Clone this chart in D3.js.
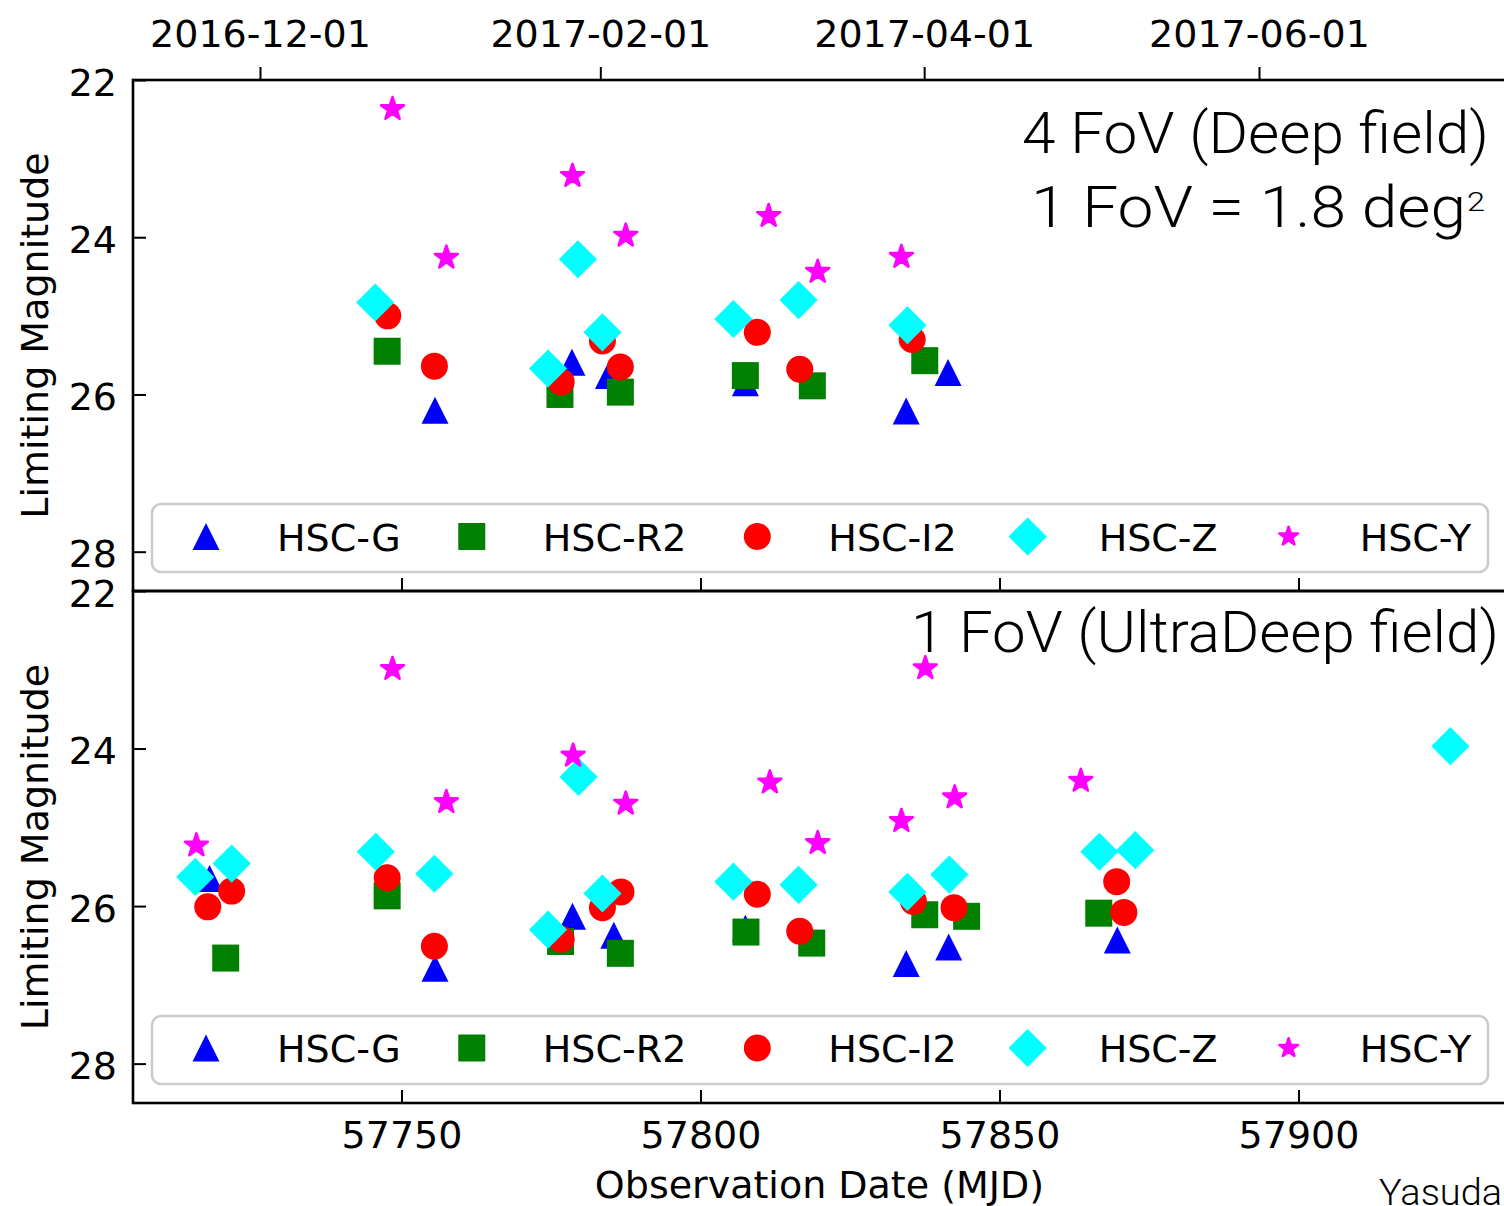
<!DOCTYPE html>
<html>
<head>
<meta charset="utf-8">
<script src="https://cdn.jsdelivr.net/npm/d3@7"></script>
<style>
  html, body { margin: 0; padding: 0; background: #fff; overflow: hidden; }
  svg { display: block; }
  .tick text { font-family: "DejaVu Sans", sans-serif; font-size: 38px; fill: #000; }
  .tick line { stroke: #000; stroke-width: 2; }
</style>
</head>
<body>
<svg id="chart" width="1504" height="1206"></svg>
<script>
// ---- axis values ----
const bands = ["HSC-G", "HSC-R2", "HSC-I2", "HSC-Z", "HSC-Y"];
const mjdTicks = [57750, 57800, 57850, 57900];
const magTicks = [22, 24, 26, 28];
const dateTicks = ["2016-12-01", "2017-02-01", "2017-04-01", "2017-06-01"];
const mjdDomain = [57705.1, 57934.7];
const magDomain = [22, 28.5];
const dateDomain = ["2016-11-07T20:43:00Z", "2017-07-16T00:00:00Z"];

// ---- Deep field (4 FoV): [MJD, limiting magnitude] ----
const deepG  = [[57755.6, 26.20], [57778.5, 25.59], [57784.6, 25.76], [57807.5, 25.85], [57834.4, 26.21], [57841.4, 25.72]];
const deepR2 = [[57747.6, 25.45], [57776.5, 26.00], [57786.6, 25.97], [57807.5, 25.76], [57818.7, 25.89], [57837.5, 25.57]];
const deepI2 = [[57747.7, 25.00], [57755.5, 25.64], [57776.7, 25.84], [57783.6, 25.32], [57786.6, 25.65], [57809.5, 25.21], [57816.6, 25.68], [57835.4, 25.30]];
const deepZ  = [[57745.6, 24.83], [57774.5, 25.67], [57779.5, 24.28], [57783.6, 25.21], [57805.5, 25.04], [57816.4, 24.80], [57834.6, 25.12]];
const deepY  = [[57748.5, 22.37], [57757.5, 24.26], [57778.6, 23.22], [57787.5, 23.98], [57811.4, 23.73], [57819.6, 24.44], [57833.6, 24.25]];

// ---- UltraDeep field (1 FoV): [MJD, limiting magnitude] ----
const udeepG  = [[57717.9, 25.65], [57755.6, 26.79], [57778.6, 26.13], [57785.5, 26.37], [57807.5, 26.28], [57834.4, 26.73], [57841.5, 26.52], [57869.7, 26.43]];
const udeepR2 = [[57720.6, 26.66], [57747.6, 25.87], [57776.6, 26.45], [57786.6, 26.60], [57807.6, 26.33], [57818.6, 26.47], [57837.5, 26.11], [57844.5, 26.13], [57866.6, 26.09]];
const udeepI2 = [[57717.6, 26.01], [57721.6, 25.81], [57747.6, 25.64], [57755.5, 26.51], [57776.7, 26.42], [57783.6, 26.02], [57786.7, 25.82], [57809.5, 25.85], [57816.6, 26.32], [57835.6, 25.94], [57842.4, 26.02], [57869.6, 25.69], [57870.8, 26.08]];
const udeepZ  = [[57715.5, 25.63], [57721.6, 25.46], [57745.7, 25.31], [57755.5, 25.59], [57774.5, 26.30], [57779.6, 24.36], [57783.6, 25.84], [57805.5, 25.69], [57816.4, 25.73], [57834.6, 25.82], [57841.6, 25.60], [57866.7, 25.31], [57872.7, 25.29], [57925.4, 23.97]];
const udeepY  = [[57715.7, 25.23], [57748.5, 22.99], [57757.5, 24.68], [57778.7, 24.09], [57787.5, 24.70], [57811.6, 24.43], [57819.6, 25.20], [57833.6, 24.92], [57837.6, 22.98], [57842.5, 24.62], [57863.6, 24.41]];

// ---- marker style per band ----
const bandColor = { "HSC-G": "#0000ff", "HSC-R2": "#008000", "HSC-I2": "#ff0000", "HSC-Z": "#00ffff", "HSC-Y": "#ff00ff" };
const bandShape = { "HSC-G": "triangle", "HSC-R2": "square", "HSC-I2": "circle", "HSC-Z": "diamond", "HSC-Y": "star" };

const svg = d3.select("#chart");
svg.append("rect").attr("width", 1504).attr("height", 1206).attr("fill", "#fff");

const left = 133, right = 1506;
const x = d3.scaleLinear().domain(mjdDomain).range([left, right]);
const xDate = d3.scaleUtc().domain(dateDomain.map(d => new Date(d))).range([left, right]);

function markerPath(shape, m) {
  const h = m / 2;
  if (shape === "triangle") return `M0,${-h}L${h},${h}L${-h},${h}Z`;
  if (shape === "square") return `M${-h},${-h}H${h}V${h}H${-h}Z`;
  if (shape === "circle") return `M${h},0A${h},${h},0,1,1,${-h},0A${h},${h},0,1,1,${h},0Z`;
  if (shape === "diamond") { const d = h * Math.SQRT2; return `M0,${-d}L${d},0L0,${d}L${-d},0Z`; }
  // five-pointed star
  const rIn = h * 0.381966;
  let p = "";
  for (let i = 0; i < 10; i++) {
    const r = i % 2 === 0 ? h : rIn;
    const a = -Math.PI / 2 + i * Math.PI / 5;
    p += (i === 0 ? "M" : "L") + (r * Math.cos(a)).toFixed(2) + "," + (r * Math.sin(a)).toFixed(2);
  }
  return p + "Z";
}

// stars carry a rounded edge in their own colour, like the other markers' outline
function styleMarker(sel, b) {
  sel.attr("fill", bandColor[b]);
  if (bandShape[b] === "star") {
    sel.attr("stroke", bandColor[b]).attr("stroke-width", 2.6).attr("stroke-linejoin", "round");
  }
  return sel;
}

const panels = [
  { id: "deep",  y0: 80,  y1: 591,  series: [deepG, deepR2, deepI2, deepZ, deepY],      boxY: 504,  itemY: 536.5 },
  { id: "udeep", y0: 591, y1: 1103, series: [udeepG, udeepR2, udeepI2, udeepZ, udeepY], boxY: 1016, itemY: 1048 }
];

const M = 27;

panels.forEach((p, pi) => {
  const y = d3.scaleLinear().domain(magDomain).range([p.y0, p.y1]);
  const g = svg.append("g").attr("class", "panel-" + p.id);

  g.append("clipPath").attr("id", "clip-" + p.id)
    .append("rect").attr("x", left).attr("y", p.y0).attr("width", right - left).attr("height", p.y1 - p.y0);

  // observations, later bands drawn on top
  const marks = g.append("g").attr("clip-path", `url(#clip-${p.id})`);
  bands.forEach((b, bi) => {
    const ms = bandShape[b] === "star" ? M - 3 : M;
    marks.append("g").selectAll("path").data(p.series[bi]).join("path")
      .attr("d", markerPath(bandShape[b], ms))
      .attr("transform", d => `translate(${x(d[0])},${y(d[1])})`)
      .call(styleMarker, b);
  });

  // left axis
  const ya = g.append("g").attr("transform", `translate(${left},0)`)
    .call(d3.axisLeft(y).tickValues(magTicks).tickFormat(d3.format("d")).tickSize(-13).tickPadding(16));
  ya.select(".domain").remove();
  ya.selectAll(".tick text").attr("dy", "0.40em");

  // bottom axis
  const xa = g.append("g").attr("transform", `translate(0,${p.y1})`)
    .call(d3.axisBottom(x).tickValues(mjdTicks).tickSize(-13).tickPadding(18)
      .tickFormat(pi === panels.length - 1 ? d3.format("d") : () => ""));
  xa.select(".domain").remove();

  // frame
  g.append("rect").attr("x", left).attr("y", p.y0).attr("width", right - left).attr("height", p.y1 - p.y0)
    .attr("fill", "none").attr("stroke", "#000").attr("stroke-width", 2.6);

  // y label
  g.append("text")
    .attr("transform", `translate(48,${(p.y0 + p.y1) / 2}) rotate(-90)`)
    .attr("text-anchor", "middle")
    .attr("font-family", "DejaVu Sans").attr("font-size", 38)
    .text("Limiting Magnitude");

  // legend
  const lg = g.append("g");
  lg.append("rect").attr("x", 152).attr("y", p.boxY).attr("width", 1336).attr("height", 68)
    .attr("rx", 9).attr("fill", "#fff").attr("fill-opacity", 0.8)
    .attr("stroke", "#cccccc").attr("stroke-width", 2.6);
  let cx = 206;
  bands.forEach(b => {
    const ms = bandShape[b] === "star" ? M * 0.72 : M;
    lg.append("path").attr("d", markerPath(bandShape[b], ms))
      .attr("transform", `translate(${cx},${p.itemY})`).call(styleMarker, b);
    const t = lg.append("text").attr("x", cx + 71).attr("y", p.itemY + 14)
      .attr("font-family", "DejaVu Sans").attr("font-size", 38).text(b);
    cx = cx + 71 + t.node().getComputedTextLength() + 71;
  });
});

// date axis along the top
const ta = svg.append("g").attr("transform", "translate(0,80)")
  .call(d3.axisTop(xDate).tickValues(dateTicks.map(d => new Date(d + "T00:00:00Z")))
    .tickFormat(d3.utcFormat("%Y-%m-%d")).tickSize(13).tickPadding(20));
ta.select(".domain").remove();

// x label
svg.append("text").attr("x", (left + right) / 2).attr("y", 1198)
  .attr("text-anchor", "middle").attr("font-family", "DejaVu Sans").attr("font-size", 38)
  .text("Observation Date (MJD)");

// field annotations
const note = svg.append("g").attr("font-family", "Roboto, 'Liberation Sans', sans-serif")
  .attr("font-weight", 300).attr("fill", "#000");
note.append("text").attr("x", 1022).attr("y", 153).attr("font-size", 57)
  .attr("textLength", 467).attr("lengthAdjust", "spacingAndGlyphs").text("4 FoV (Deep field)");
note.append("text").attr("x", 1031).attr("y", 227).attr("font-size", 57)
  .attr("textLength", 435).attr("lengthAdjust", "spacingAndGlyphs").text("1 FoV = 1.8 deg");
note.append("text").attr("x", 1467).attr("y", 211).attr("font-size", 26)
  .attr("textLength", 18).attr("lengthAdjust", "spacingAndGlyphs").text("2");
note.append("text").attr("x", 911).attr("y", 652).attr("font-size", 57)
  .attr("textLength", 588).attr("lengthAdjust", "spacingAndGlyphs").text("1 FoV (UltraDeep field)");
note.append("text").attr("x", 1379).attr("y", 1205).attr("font-size", 36)
  .attr("textLength", 123).attr("lengthAdjust", "spacingAndGlyphs").text("Yasuda");
</script>
</body>
</html>
